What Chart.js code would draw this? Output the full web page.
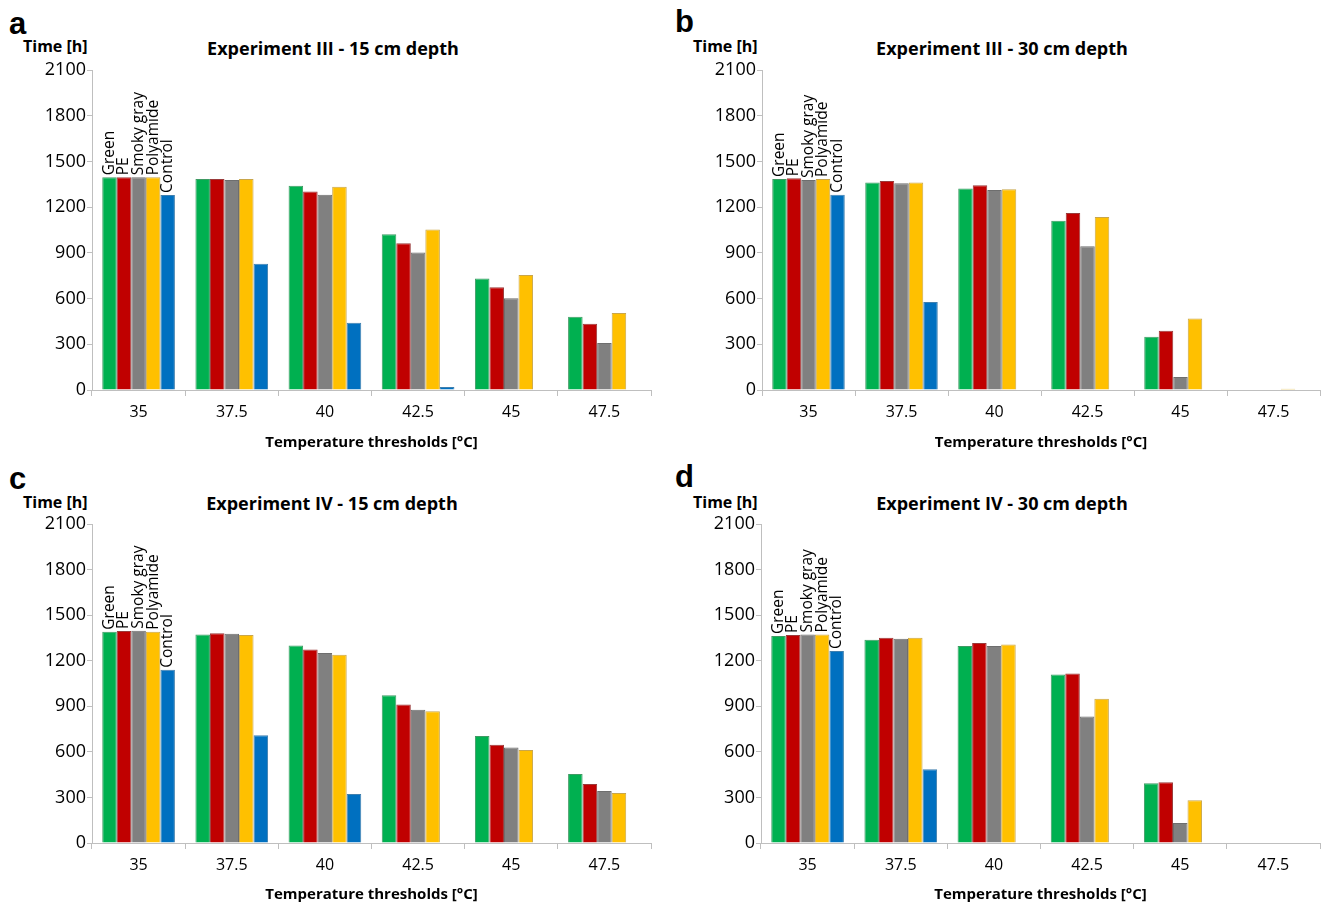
<!DOCTYPE html>
<html>
<head>
<meta charset="utf-8">
<title>Temperature thresholds</title>
<script src="https://cdn.jsdelivr.net/npm/chart.js@4.4.0/dist/chart.umd.min.js"></script>
<style>
  body { margin: 0; background: #fff; width: 1323px; height: 906px; overflow: hidden; position: relative; font-family: "Open Sans", sans-serif; }
  .box { position: absolute; }
  .txt { position: absolute; white-space: nowrap; color: #000; line-height: 1; }
  .letter { font: bold 31px "Liberation Sans", Arial, sans-serif; }
  .ylab { font: bold 16px "Open Sans", sans-serif; transform: translateY(-50%); }
  .ttl { font: bold 18px "Open Sans", sans-serif; transform: translate(-50%, -50%); }
</style>
</head>
<body>

<div class="txt letter" style="left:9px;top:6px">a</div>
<div class="txt letter" style="left:675px;top:4px">b</div>
<div class="txt letter" style="left:9px;top:461px">c</div>
<div class="txt letter" style="left:675px;top:459px">d</div>

<div class="txt ylab" style="left:23px;top:46px">Time [h]</div>
<div class="txt ylab" style="left:693px;top:46px">Time [h]</div>
<div class="txt ylab" style="left:23px;top:502px">Time [h]</div>
<div class="txt ylab" style="left:693px;top:502px">Time [h]</div>

<div class="txt ttl" style="left:333px;top:48px">Experiment III - 15 cm depth</div>
<div class="txt ttl" style="left:1002px;top:48px">Experiment III - 30 cm depth</div>
<div class="txt ttl" style="left:332px;top:503px">Experiment IV - 15 cm depth</div>
<div class="txt ttl" style="left:1002px;top:503px">Experiment IV - 30 cm depth</div>

<script>
// categories and tick labels
const thresholds = ['35', '37.5', '40', '42.5', '45', '47.5'];
const seriesNames = ['Green', 'PE', 'Smoky gray', 'Polyamide', 'Control'];
const yTicks = [0, 300, 600, 900, 1200, 1500, 1800, 2100];
const xTitle = 'Temperature thresholds [°C]';

// a - Experiment III, 15 cm
const aGreen = [1396, 1385, 1340, 1022, 731, 481];
const aPE = [1396, 1385, 1303, 963, 674, 435];
const aGray = [1396, 1378, 1281, 902, 602, 308];
const aPoly = [1396, 1385, 1334, 1053, 755, 505];
const aControl = [1280, 829, 442, 20, 0, 0];

// b - Experiment III, 30 cm
const bGreen = [1385, 1361, 1323, 1111, 350, 0];
const bPE = [1389, 1372, 1343, 1162, 389, 0];
const bGray = [1378, 1356, 1313, 943, 85, 0];
const bPoly = [1385, 1361, 1317, 1135, 470, 8];
const bControl = [1282, 578, 0, 0, 0, 0];

// c - Experiment IV, 15 cm
const cGreen = [1391, 1373, 1300, 973, 705, 455];
const cPE = [1395, 1380, 1274, 911, 646, 389];
const cGray = [1397, 1378, 1250, 878, 628, 343];
const cPoly = [1391, 1369, 1239, 867, 613, 329];
const cControl = [1140, 710, 323, 4, 0, 0];

// d - Experiment IV, 30 cm
const dGreen = [1362, 1338, 1297, 1110, 393, 0];
const dPE = [1369, 1351, 1316, 1116, 400, 0];
const dGray = [1373, 1345, 1297, 833, 132, 0];
const dPoly = [1373, 1351, 1307, 949, 282, 0];
const dControl = [1264, 486, 0, 0, 0, 0];

const fills = ['#00b050', '#c00000', '#808080', '#ffc000', '#0070c0'];
const edges = ['#3f9a63', '#9a3a3a', '#6e6e6e', '#c9a64a', '#3f7fae'];
const axisGray = '#bfbfbf';

// vertical series names above the first group of bars
const seriesLabels = {
  id: 'seriesLabels',
  afterDatasetsDraw(chart) {
    const ctx = chart.ctx;
    ctx.save();
    ctx.font = '15.5px "Open Sans", sans-serif';
    ctx.fillStyle = '#000';
    ctx.textAlign = 'left';
    ctx.textBaseline = 'middle';
    chart.data.datasets.forEach((ds, i) => {
      const bar = chart.getDatasetMeta(i).data[0];
      ctx.save();
      ctx.translate(bar.x, bar.y - 2);
      ctx.rotate(-Math.PI / 2);
      ctx.fillText(ds.label, 0, 0);
      ctx.restore();
    });
    ctx.restore();
  }
};

function makePanel(box, series) {
  const wrap = document.createElement('div');
  wrap.className = 'box';
  wrap.style.left = box.left + 'px';
  wrap.style.top = box.top + 'px';
  const canvas = document.createElement('canvas');
  canvas.width = box.width;
  canvas.height = box.height;
  wrap.appendChild(canvas);
  document.body.appendChild(wrap);

  new Chart(canvas, {
    type: 'bar',
    data: {
      labels: thresholds,
      datasets: series.map((vals, i) => ({
        label: seriesNames[i],
        data: vals,
        backgroundColor: fills[i],
        borderColor: edges[i],
        borderWidth: 1,
        borderSkipped: 'start',
        categoryPercentage: 0.78,
        barPercentage: 1
      }))
    },
    options: {
      responsive: false,
      animation: false,
      layout: { padding: { top: box.padTop, right: box.padRight, left: 0, bottom: 0 } },
      plugins: { legend: { display: false }, tooltip: { enabled: false } },
      scales: {
        x: {
          grid: { offset: true, drawOnChartArea: false, drawTicks: true, tickLength: 6, color: axisGray },
          border: { display: true, color: axisGray },
          ticks: { color: '#000', font: { family: 'Open Sans', size: 16 }, padding: 7 },
          title: { display: true, text: xTitle, color: '#000', font: { family: 'Open Sans', size: 15, weight: 'bold' }, padding: { top: 0, bottom: box.titlePad } },
          afterFit: s => { s.height = box.xHeight; }
        },
        y: {
          min: 0,
          max: yTicks[yTicks.length - 1],
          afterBuildTicks: s => { s.ticks = yTicks.map(v => ({ value: v })); },
          grid: { drawOnChartArea: false, drawTicks: true, tickLength: 5, color: axisGray },
          border: { display: true, color: axisGray },
          ticks: { color: '#000', font: { family: 'Open Sans', size: 18 }, padding: 1, callback: v => String(v) },
          afterFit: s => { s.width = box.yWidth; }
        }
      }
    },
    plugins: [seriesLabels]
  });
}

makePanel({ left: 0, top: 0, width: 660, height: 455, yWidth: 92, padTop: 70, padRight: 9, xHeight: 65, titlePad: 3 },
  [aGreen, aPE, aGray, aPoly, aControl]);
makePanel({ left: 660, top: 0, width: 663, height: 455, yWidth: 102, padTop: 70, padRight: 3, xHeight: 65, titlePad: 3 },
  [bGreen, bPE, bGray, bPoly, bControl]);
makePanel({ left: 0, top: 455, width: 660, height: 451, yWidth: 92, padTop: 69, padRight: 9, xHeight: 63, titlePad: 2 },
  [cGreen, cPE, cGray, cPoly, cControl]);
makePanel({ left: 660, top: 455, width: 663, height: 451, yWidth: 101, padTop: 69, padRight: 3, xHeight: 63, titlePad: 2 },
  [dGreen, dPE, dGray, dPoly, dControl]);
</script>
</body>
</html>
